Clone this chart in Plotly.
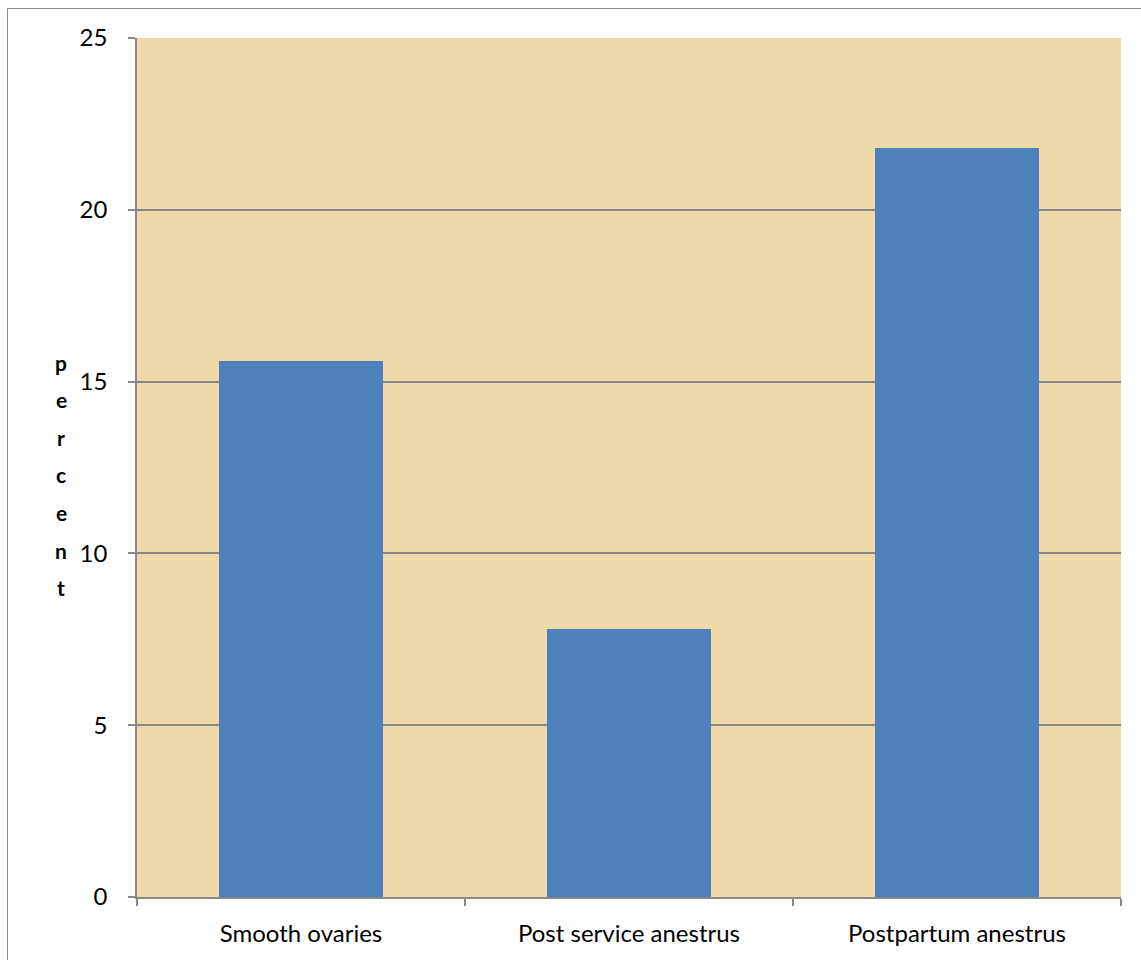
import plotly.graph_objects as go

categories = ["Smooth ovaries", "Post service anestrus", "Postpartum anestrus"]
percent_values = [15.6, 7.8, 21.8]
y_ticks = [0, 5, 10, 15, 20, 25]
y_title = "percent"

W, H = 1141, 960
L, R, T, B = 137, 20, 38, 63
pw, ph = W - L - R, H - T - B

def px_x(x):
    return (x - L) / pw

def px_y(y):
    return (H - B - y) / ph

grey = "#888888"
font_family = "Lato, 'Open Sans', sans-serif"

fig = go.Figure(
    go.Bar(
        x=categories,
        y=percent_values,
        width=0.5,
        marker=dict(color="#4F81BD", line=dict(width=0)),
        hoverinfo="skip",
    )
)

fig.update_layout(
    width=W,
    height=H,
    margin=dict(l=L, r=R, t=T, b=B),
    paper_bgcolor="white",
    plot_bgcolor="#EEDAA8",
    showlegend=False,
    font=dict(family=font_family, size=24, color="black"),
)

fig.update_xaxes(
    showline=True,
    linecolor=grey,
    linewidth=1.5,
    ticks="outside",
    tickson="boundaries",
    ticklen=7,
    tickcolor=grey,
    tickwidth=1.5,
    showgrid=False,
    ticklabelstandoff=14,
    tickfont=dict(size=24),
)

fig.update_yaxes(
    range=[0, 25],
    tickvals=y_ticks,
    showline=True,
    linecolor=grey,
    linewidth=1.5,
    ticks="outside",
    ticklen=7,
    tickcolor=grey,
    tickwidth=1.5,
    showgrid=True,
    gridcolor=grey,
    gridwidth=1.5,
    ticklabelstandoff=16,
    tickfont=dict(size=24),
    zeroline=False,
)

# vertical stacked axis title, one letter per line
for i, ch in enumerate(y_title):
    fig.add_annotation(
        x=px_x(61),
        y=px_y(362 + i * 37.6),
        xref="paper",
        yref="paper",
        text=f"<b>{ch}</b>",
        showarrow=False,
        font=dict(size=21, family=font_family),
        xanchor="center",
        yanchor="middle",
    )

# chart frame
fig.add_shape(
    type="rect",
    xref="paper",
    yref="paper",
    x0=px_x(7.5),
    x1=px_x(1150),
    y0=px_y(970),
    y1=px_y(8.5),
    line=dict(color="#8c8c8c", width=1),
    fillcolor="rgba(0,0,0,0)",
    layer="below",
)

fig.write_html("out.html")
